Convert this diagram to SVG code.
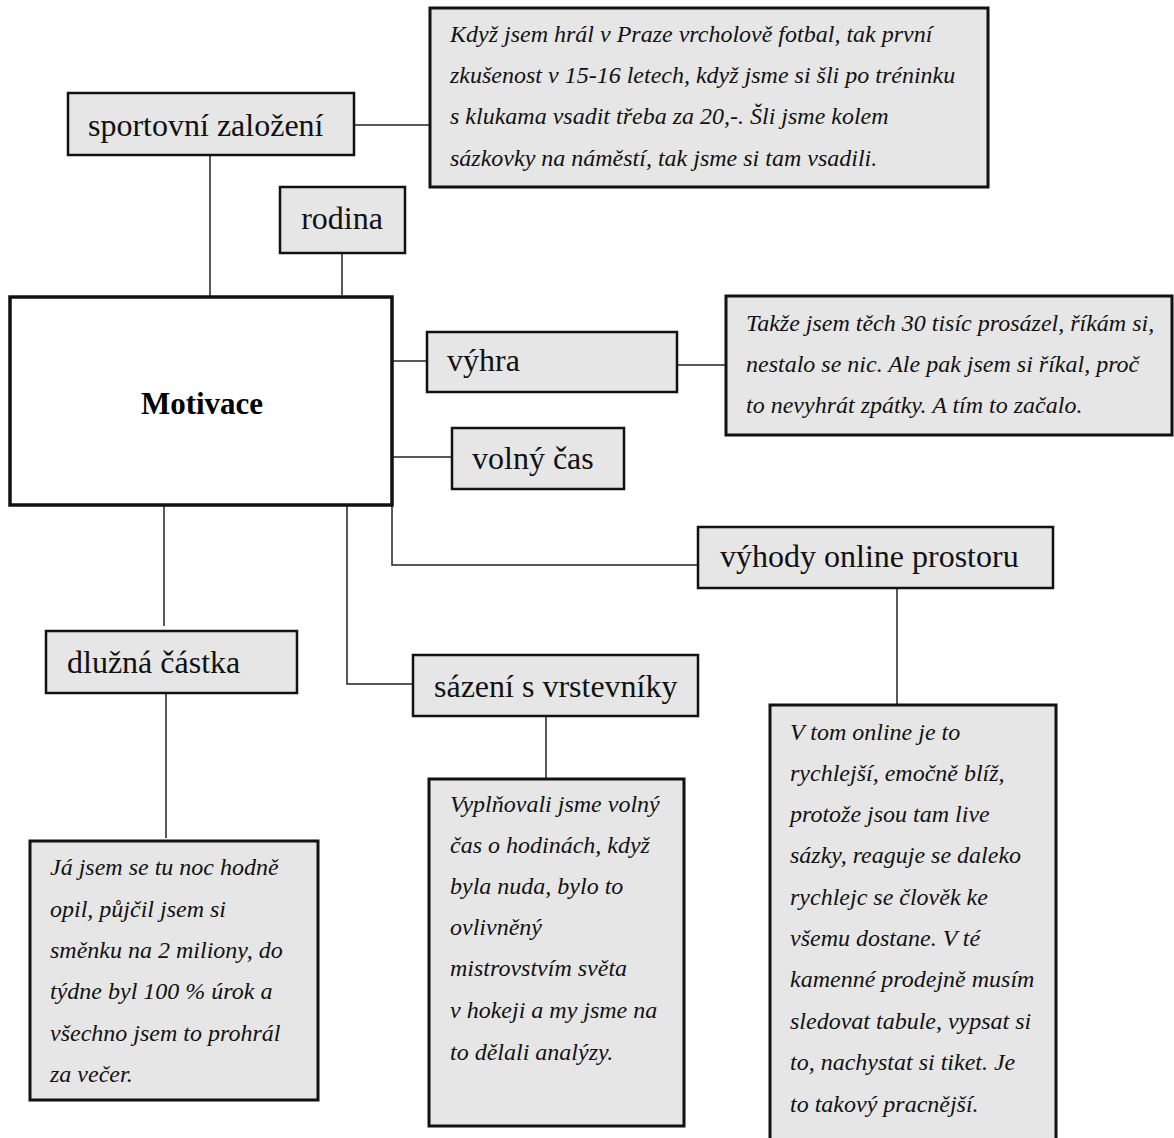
<svg xmlns="http://www.w3.org/2000/svg" width="1174" height="1138" viewBox="0 0 1174 1138">
  <style>
    .box { fill: #e6e6e6; stroke: #111; stroke-width: 2.5; }
    .quote { fill: #e6e6e6; stroke: #111; stroke-width: 3; }
    .core { fill: #fff; stroke: #111; stroke-width: 3.5; }
    .lbl { font-family: "Liberation Serif", "Times New Roman", serif; font-size: 32px; fill: #111; }
    .q { font-family: "Liberation Serif", "Times New Roman", serif; font-size: 24px; font-style: italic; fill: #111; }
    .title { font-family: "Liberation Serif", "Times New Roman", serif; font-size: 31px; font-weight: bold; fill: #000; }
    .conn { fill: none; stroke: #222; stroke-width: 1.5; }
  </style>
  <rect width="1174" height="1138" fill="#fff"/>

  <!-- connectors -->
  <g id="connectors" class="conn">
    <path d="M354 125 H430"/>
    <path d="M210 155 V297"/>
    <path d="M342 253 V295"/>
    <path d="M392 361 H427"/>
    <path d="M677 365 H726"/>
    <path d="M392 457 H452"/>
    <path d="M392 505 V565 H698"/>
    <path d="M164 505 V626"/>
    <path d="M347 505 V684 H413"/>
    <path d="M546 716 V778"/>
    <path d="M166 693 V838"/>
    <path d="M897 588 V704"/>
  </g>

  <g id="quote-sport">
    <rect class="quote" x="430" y="8" width="558" height="179"/>
    <text class="q" x="450" y="42">Když jsem hrál v Praze vrcholově fotbal, tak první</text>
    <text class="q" x="450" y="83">zkušenost v 15-16 letech, když jsme si šli po tréninku</text>
    <text class="q" x="450" y="124">s klukama vsadit třeba za 20,-. Šli jsme kolem</text>
    <text class="q" x="450" y="166">sázkovky na náměstí, tak jsme si tam vsadili.</text>
  </g>

  <g id="sportovni-zalozeni">
    <rect class="box" x="68" y="93" width="286" height="62"/>
    <text class="lbl" x="88" y="136">sportovní založení</text>
  </g>

  <g id="rodina">
    <rect class="box" x="280" y="187" width="125" height="66"/>
    <text class="lbl" x="342" y="229" text-anchor="middle">rodina</text>
  </g>

  <g id="motivace">
    <rect class="core" x="10" y="297" width="382" height="208"/>
    <text class="title" x="202" y="414" text-anchor="middle">Motivace</text>
  </g>

  <g id="vyhra">
    <rect class="box" x="427" y="332" width="250" height="60"/>
    <text class="lbl" x="447" y="371">výhra</text>
  </g>

  <g id="quote-vyhra">
    <rect class="quote" x="726" y="296" width="446" height="139"/>
    <text class="q" x="746" y="331">Takže jsem těch 30 tisíc prosázel, říkám si,</text>
    <text class="q" x="746" y="372">nestalo se nic. Ale pak jsem si říkal, proč</text>
    <text class="q" x="746" y="413">to nevyhrát zpátky. A tím to začalo.</text>
  </g>

  <g id="volny-cas">
    <rect class="box" x="452" y="428" width="172" height="61"/>
    <text class="lbl" x="472" y="469">volný čas</text>
  </g>

  <g id="vyhody-online">
    <rect class="box" x="698" y="527" width="355" height="61"/>
    <text class="lbl" x="720" y="567">výhody online prostoru</text>
  </g>

  <g id="dluzna-castka">
    <rect class="box" x="46" y="631" width="251" height="62"/>
    <text class="lbl" x="67" y="673">dlužná částka</text>
  </g>

  <g id="sazeni">
    <rect class="box" x="413" y="655" width="285" height="61"/>
    <text class="lbl" x="434" y="697">sázení s vrstevníky</text>
  </g>

  <g id="quote-dluh">
    <rect class="quote" x="30" y="841" width="288" height="259"/>
    <text class="q" x="50" y="875">Já jsem se tu noc hodně</text>
    <text class="q" x="50" y="917">opil, půjčil jsem si</text>
    <text class="q" x="50" y="958">směnku na 2 miliony, do</text>
    <text class="q" x="50" y="999">týdne byl 100 % úrok a</text>
    <text class="q" x="50" y="1041">všechno jsem to prohrál</text>
    <text class="q" x="50" y="1082">za večer.</text>
  </g>

  <g id="quote-sazeni">
    <rect class="quote" x="429" y="779" width="255" height="347"/>
    <text class="q" x="450" y="812">Vyplňovali jsme volný</text>
    <text class="q" x="450" y="853">čas o hodinách, když</text>
    <text class="q" x="450" y="894">byla nuda, bylo to</text>
    <text class="q" x="450" y="935">ovlivněný</text>
    <text class="q" x="450" y="976">mistrovstvím světa</text>
    <text class="q" x="450" y="1018">v hokeji a my jsme na</text>
    <text class="q" x="450" y="1060">to dělali analýzy.</text>
  </g>

  <g id="quote-online">
    <rect class="quote" x="770" y="705" width="286" height="440"/>
    <text class="q" x="790" y="740">V tom online je to</text>
    <text class="q" x="790" y="781">rychlejší, emočně blíž,</text>
    <text class="q" x="790" y="822">protože jsou tam live</text>
    <text class="q" x="790" y="863">sázky, reaguje se daleko</text>
    <text class="q" x="790" y="905">rychlejc se člověk ke</text>
    <text class="q" x="790" y="946">všemu dostane. V té</text>
    <text class="q" x="790" y="987">kamenné prodejně musím</text>
    <text class="q" x="790" y="1029">sledovat tabule, vypsat si</text>
    <text class="q" x="790" y="1070">to, nachystat si tiket. Je</text>
    <text class="q" x="790" y="1112">to takový pracnější.</text>
  </g>
</svg>
